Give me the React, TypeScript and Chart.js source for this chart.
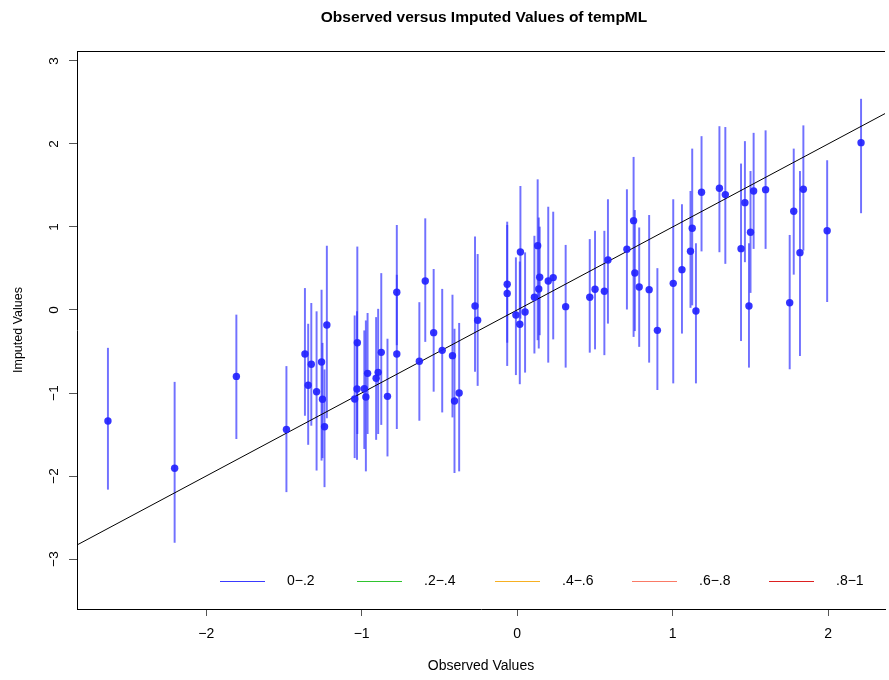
import React, { useEffect, useRef } from "react";
import { Chart, registerables } from "chart.js";

Chart.register(...registerables);

const FONT = '"Liberation Sans", Arial, Helvetica, sans-serif';

// Observed values (x) of each imputed observation
const observed = [
  -2.632, -2.203, -1.806, -1.484, -1.365, -1.324, -1.344, -1.29, -1.258, -1.252,
  -1.239, -1.224, -1.028, -1.03, -1.045, -0.983, -0.973, -0.962, -0.894, -0.907,
  -0.874, -0.834, -0.774, -0.774, -0.629, -0.591, -0.537, -0.482, -0.416, -0.403,
  -0.373, -0.271, -0.254, -0.064, -0.064, 0.021, -0.008, 0.017, 0.051, 0.111,
  0.132, 0.139, 0.145, 0.2, 0.232, 0.312, 0.467, 0.501, 0.561, 0.584,
  0.706, 0.749, 0.757, 0.785, 0.849, 0.902, 1.004, 1.06, 1.115, 1.126,
  1.15, 1.186, 1.301, 1.339, 1.44, 1.465, 1.491, 1.501, 1.521, 1.598,
  1.753, 1.779, 1.819, 1.841, 1.994, 2.212,
];
// Mean imputed values (y)
const imputed = [
  -1.337, -1.907, -0.8, -1.44, -0.53, -0.654, -0.907, -0.984, -0.627, -1.076,
  -1.406, -0.18, -0.394, -0.952, -1.072, -0.948, -1.048, -0.763, -0.751, -0.823,
  -0.51, -1.04, 0.213, -0.53, -0.618, 0.349, -0.273, -0.486, -0.55, -1.096,
  -1.0, 0.048, -0.124, 0.31, 0.2, 0.699, -0.06, -0.172, -0.024, 0.153,
  0.775, 0.253, 0.394, 0.349, 0.39, 0.04, 0.153, 0.249, 0.225, 0.602,
  0.731, 1.076, 0.445, 0.277, 0.245, -0.245, 0.321, 0.486, 0.707, 0.984,
  -0.012, 1.418, 1.466, 1.39, 0.739, 1.293, 0.048, 0.936, 1.434, 1.45,
  0.088, 1.189, 0.691, 1.454, 0.955, 2.016,
];
// Lower end of the 90% interval
const lower = [
  -2.16, -2.8, -1.55, -2.19, -1.27, -1.39, -1.62, -1.93, -1.81, -1.78,
  -2.13, -1.3, -1.49, -1.8, -1.78, -1.67, -1.94, -1.49, -1.49, -1.56,
  -1.38, -1.76, -0.42, -1.43, -1.33, -0.38, -0.98, -1.23, -1.29, -1.96,
  -1.94, -0.74, -0.91, -0.39, -0.67, -0.1, -0.78, -0.89, -0.75, -0.52,
  -0.36, -0.46, -0.3, -0.63, -0.35, -0.69, -0.51, -0.47, -0.54, -0.16,
  0.01, -0.32, -0.25, -0.44, -0.63, -0.96, -0.88, -0.28, 0.03, 0.06,
  -0.88, 0.71, 0.7, 0.56, -0.37, 0.58, -0.69, 0.21, 0.74, 0.74,
  -0.71, 0.43, -0.55, 0.72, 0.1, 1.17,
];
// Upper end of the 90% interval
const upper = [
  -0.46, -0.87, -0.06, -0.68, 0.26, 0.08, -0.17, -0.02, 0.24, -0.4,
  -0.72, 0.77, 0.76, -0.02, -0.07, -0.25, -0.13, -0.04, 0.01, -0.09,
  0.44, -0.35, 1.02, 0.42, 0.09, 1.1, 0.49, 0.25, 0.18, -0.23,
  -0.16, 0.88, 0.67, 1.06, 1.02, 1.49, 0.63, 0.58, 0.69, 0.89,
  1.57, 1.11, 1.0, 1.24, 1.18, 0.78, 0.85, 0.95, 0.95, 1.33,
  1.45, 1.84, 1.2, 0.99, 1.14, 0.5, 1.33, 1.27, 1.43, 1.94,
  0.8, 2.09, 2.21, 2.2, 1.76, 2.03, 0.8, 1.67, 2.13, 2.16,
  0.9, 1.94, 1.67, 2.22, 1.8, 2.54,
];

const xTicks = [-2, -1, 0, 1, 2];
const xTickLabels = ["\u22122", "\u22121", "0", "1", "2"];
const yTicks = [-3, -2, -1, 0, 1, 2, 3];
const yTickLabels = ["\u22123", "\u22122", "\u22121", "0", "1", "2", "3"];
const xRange = [-2.831, 2.366];
const yRange = [-3.602, 3.12];
const refLineX = [-2.831, 2.366]; // y = x reference line

const legendLabels = ["0\u2212.2", ".2\u2212.4", ".4\u2212.6", ".6\u2212.8", ".8\u22121"];
const legendColors = ["#3a3aff", "#2fc42f", "#f7b022", "#fa7a66", "#dd2020"];

const titleText = "Observed versus Imputed Values of tempML";
const xTitle = "Observed Values";
const yTitle = "Imputed Values";

const decorPlugin = {
  id: "decor",
  afterDraw(chart: any) {
    const { ctx, chartArea: a } = chart;
    ctx.save();
    // top frame line
    ctx.fillStyle = "#000";
    ctx.fillRect(a.left, Math.round(a.top), a.right - a.left, 1);

    // main title
    ctx.fillStyle = "#000";
    ctx.font = `bold 15.5px ${FONT}`;
    ctx.textAlign = "center";
    ctx.textBaseline = "middle";
    ctx.fillText(titleText, (a.left + a.right) / 2 + 3, 18);

    // legend inside plot
    const ly = Math.round(a.bottom - 28);
    ctx.font = `14px ${FONT}`;
    ctx.textAlign = "left";
    for (let i = 0; i < legendLabels.length; i++) {
      const x0 = Math.round(a.left + 143 + i * 137.3);
      ctx.fillStyle = legendColors[i];
      ctx.fillRect(x0, ly, 45, 1);
      ctx.fillStyle = "#000";
      ctx.fillText(legendLabels[i], x0 + 67, ly + 0.5);
    }
    ctx.restore();
  },
};

export default function App() {
  const ref = useRef<HTMLCanvasElement | null>(null);

  useEffect(() => {
    if (!ref.current) return;
    const bars = observed.map((x, i) => ({ x, y: [lower[i], upper[i]] }));
    const pts = observed.map((x, i) => ({ x, y: imputed[i] }));
    const line = refLineX.map((v) => ({ x: v, y: v }));

    const chart = new Chart(ref.current, {
      type: "scatter",
      data: {
        datasets: [
          {
            type: "scatter",
            data: pts,
            pointRadius: 3.7,
            pointBackgroundColor: "rgba(35,35,255,0.92)",
            pointBorderWidth: 0,
            order: 0,
          } as any,
          {
            type: "line",
            data: line,
            borderColor: "#000",
            borderWidth: 1,
            pointRadius: 0,
            fill: false,
            order: 1,
          } as any,
          {
            type: "bar",
            data: bars,
            backgroundColor: "rgba(45,45,255,0.68)",
            borderWidth: 0,
            barThickness: 1.3,
            order: 2,
          } as any,
        ],
      },
      options: {
        animation: false,
        responsive: false,
        devicePixelRatio: 1,
        events: [],
        layout: { padding: { top: 51, left: 0, right: 0, bottom: 0 } },
        plugins: {
          legend: { display: false },
          tooltip: { enabled: false },
          title: { display: false },
        },
        scales: {
          x: {
            type: "linear",
            min: xRange[0],
            max: xRange[1],
            offset: false,
            afterBuildTicks: (ax: any) => {
              ax.ticks = xTicks.map((v) => ({ value: v }));
            },
            afterFit: (s: any) => {
              s.height = 71;
            },
            ticks: {
              autoSkip: false,
              minRotation: 0,
              maxRotation: 0,
              color: "#000",
              padding: 9.6,
              font: { family: FONT, size: 14 },
              callback: (_v: any, i: number) => xTickLabels[i],
            },
            grid: {
              offset: false,
              drawOnChartArea: false,
              drawTicks: true,
              tickLength: 7,
              tickColor: "#555",
              tickWidth: 1,
            },
            border: { display: true, color: "#000", width: 1 },
            title: {
              display: true,
              text: xTitle,
              color: "#000",
              font: { family: FONT, size: 14 },
              padding: { top: 0, bottom: 5.6 },
            },
          } as any,
          y: {
            type: "linear",
            min: yRange[0],
            max: yRange[1],
            offset: false,
            afterBuildTicks: (ax: any) => {
              ax.ticks = yTicks.map((v) => ({ value: v }));
            },
            afterFit: (s: any) => {
              s.width = 77;
            },
            ticks: {
              autoSkip: false,
              minRotation: 90,
              maxRotation: 90,
              crossAlign: "center",
              color: "#000",
              padding: 6.6,
              font: { family: FONT, size: 13.5 },
              callback: (_v: any, i: number) => yTickLabels[i],
            },
            grid: {
              offset: false,
              drawOnChartArea: false,
              drawTicks: true,
              tickLength: 8,
              tickColor: "#555",
              tickWidth: 1,
            },
            border: { display: true, color: "#000", width: 1 },
            title: {
              display: true,
              text: yTitle,
              color: "#000",
              font: { family: FONT, size: 12.5 },
              padding: { top: 11, bottom: 0 },
            },
          } as any,
        },
      },
      plugins: [decorPlugin],
    } as any);
    return () => chart.destroy();
  }, []);

  return (
    <div style={{ position: "fixed", left: 0, top: 0, width: 889, height: 680, background: "#fff" }}>
      <canvas ref={ref} width={889} height={680} style={{ width: 889, height: 680, display: "block" }} />
    </div>
  );
}
